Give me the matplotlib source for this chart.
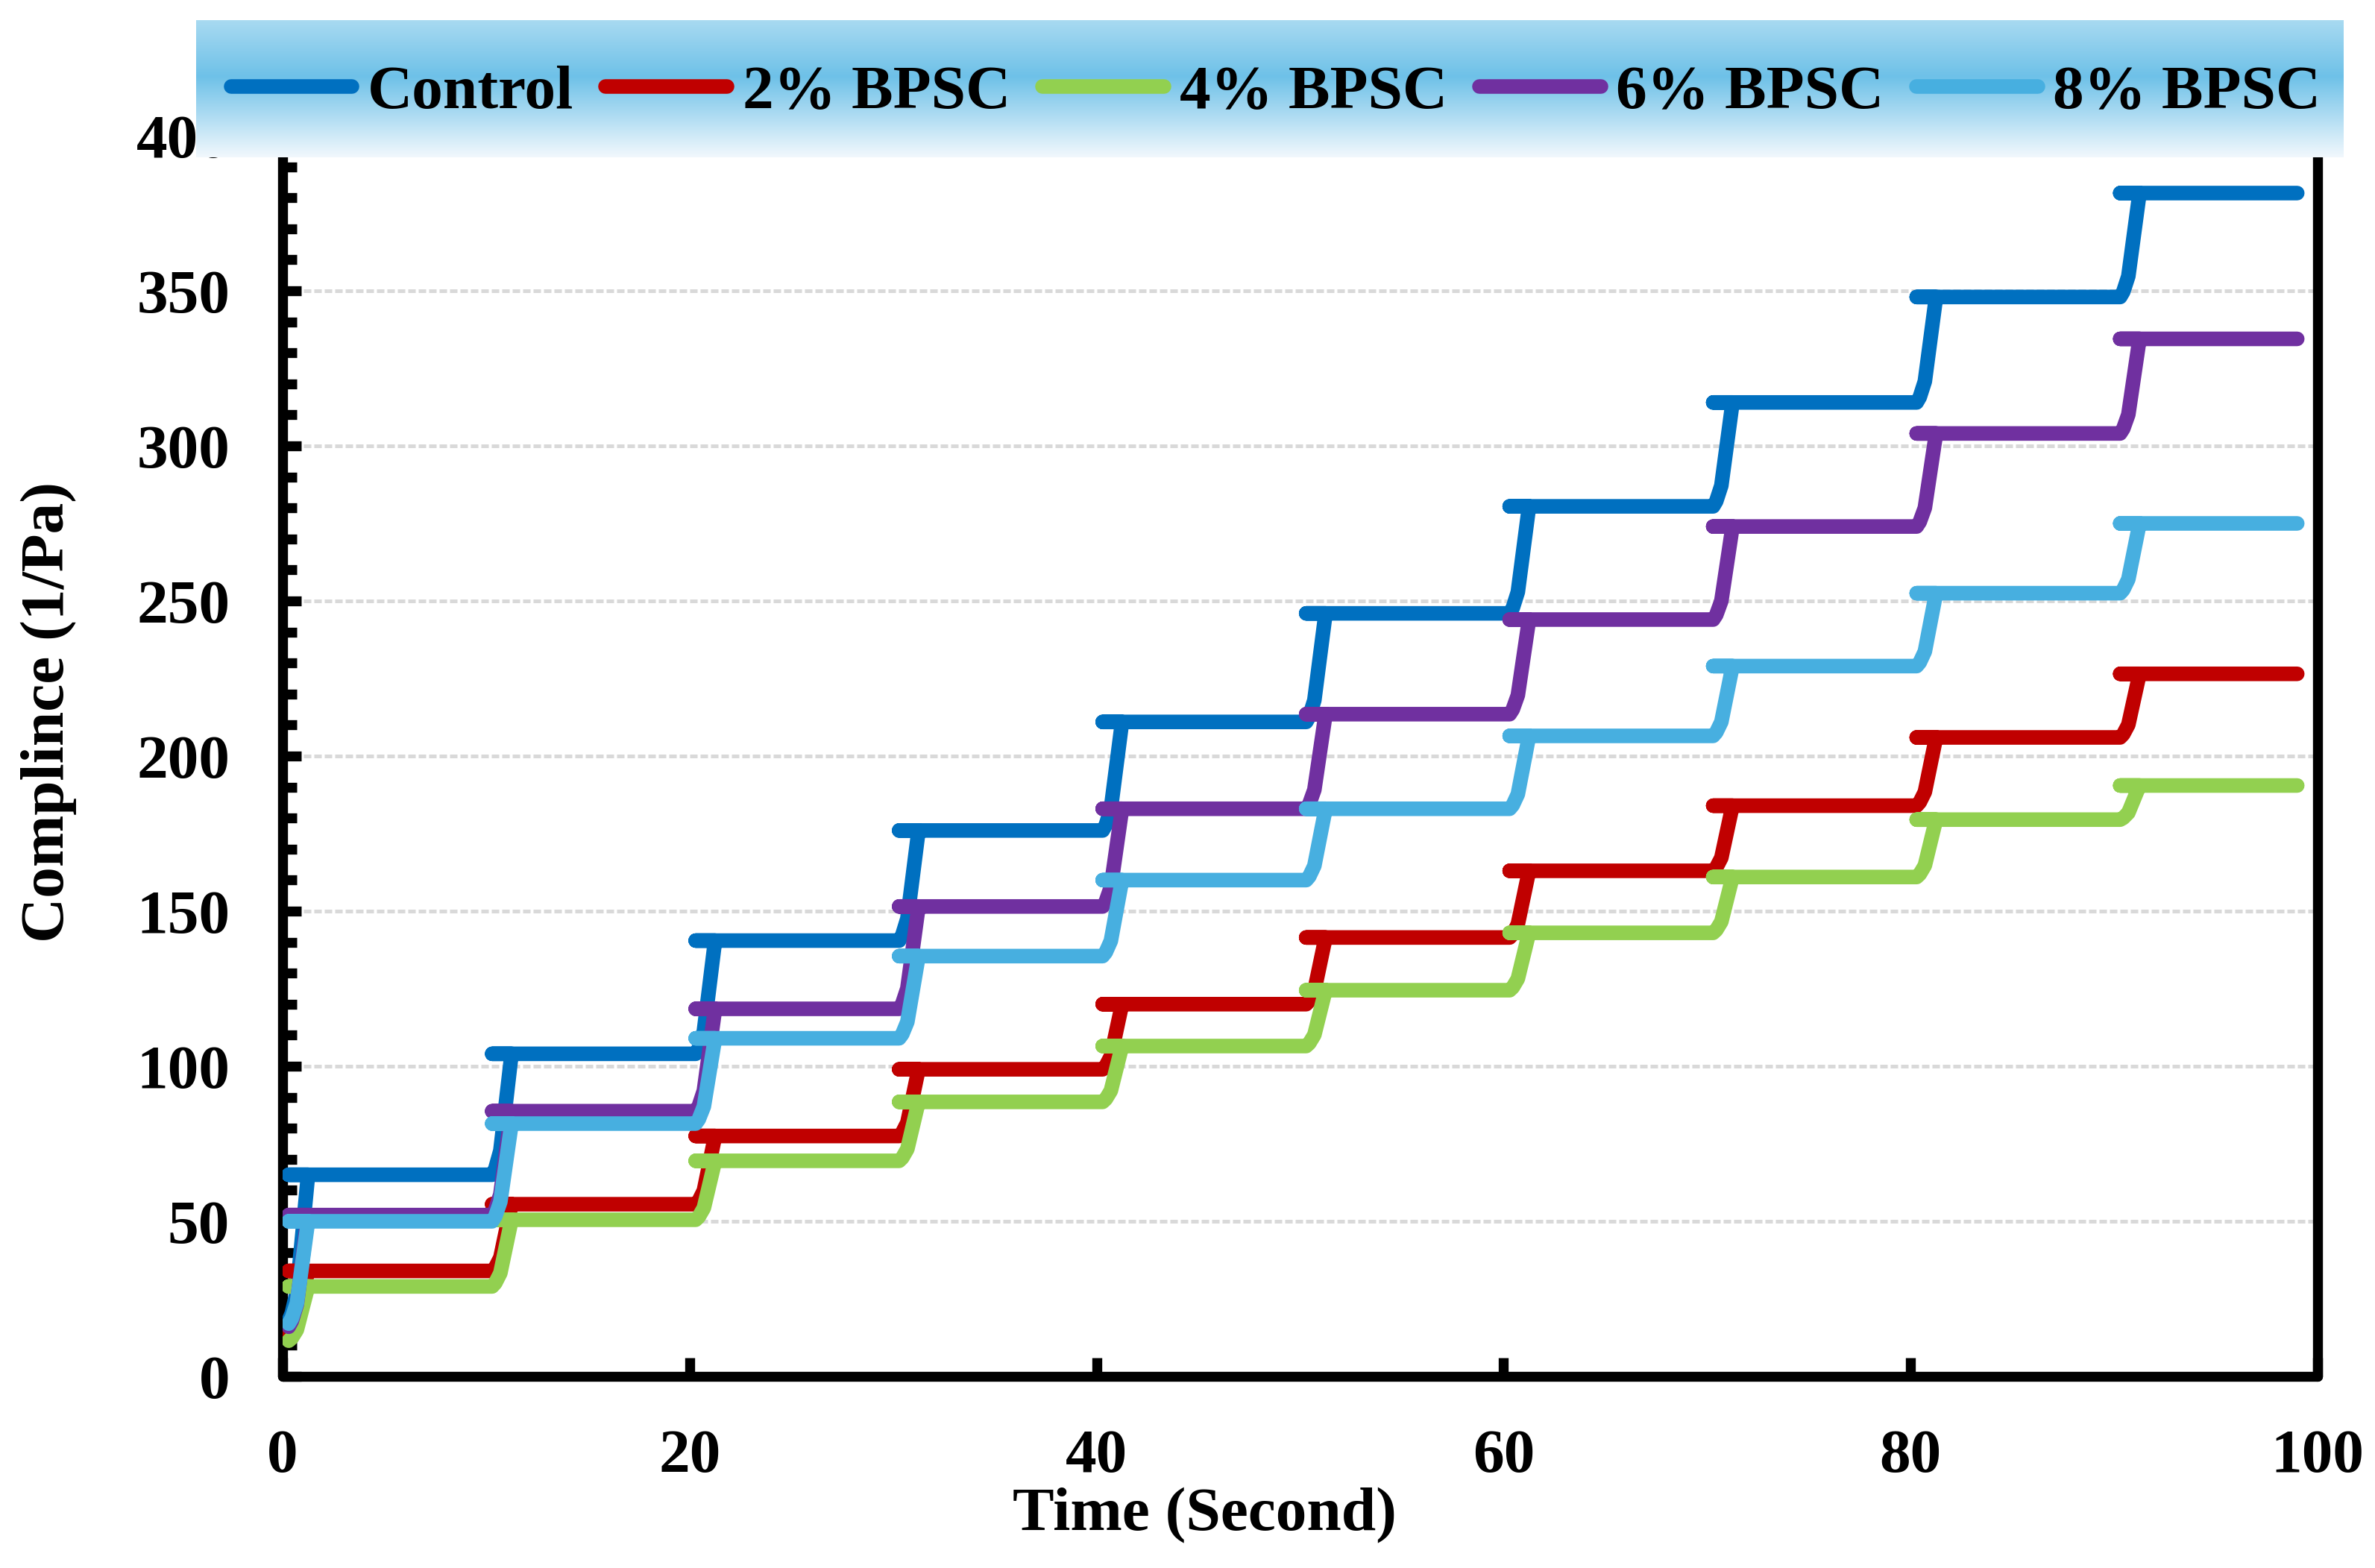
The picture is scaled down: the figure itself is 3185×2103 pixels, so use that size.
import numpy as np
import matplotlib
matplotlib.use('Agg')
from matplotlib import pyplot as plt
from matplotlib.colors import LinearSegmentedColormap
from matplotlib.ticker import MultipleLocator

# plateau levels of compliance (1/Pa), one per 10 s load step
labels = ['Control', '2% BPSC', '4% BPSC', '6% BPSC', '8% BPSC']
colors = ['#0070C0', '#C00000', '#92D050', '#7030A0', '#47AFE0']
start_vals = [18, 14, 11.5, 16, 17]
control = [65, 104, 140.5, 176, 211, 246, 280.5, 314, 348, 381.5]
bpsc2 = [34, 55.5, 77.5, 99, 120, 141.5, 163, 184, 206, 226.5]
bpsc4 = [29, 50.5, 69.5, 88.5, 106.5, 124.5, 143, 161, 179.5, 190.5]
bpsc6 = [52, 85.5, 118.5, 151.5, 183, 213.5, 244, 274, 304, 334.5]
bpsc8 = [50, 81.5, 109, 135.5, 160, 183, 206.5, 229, 252.5, 275]
series = [control, bpsc2, bpsc4, bpsc6, bpsc8]
step_times = [0.3, 10.3, 20.3, 30.3, 40.3, 50.3, 60.3, 70.3, 80.3, 90.3]
end_time = 99

# shape of one rise (time offset, fraction of the jump)
ramp_dt = [0, 0.15, 0.4, 0.95]
ramp_frac = [0, 0.05, 0.2, 1.0]

plt.rcParams['font.family'] = ['Liberation Serif', 'DejaVu Serif']
plt.rcParams['font.weight'] = 'bold'
plt.rcParams['font.size'] = 20

W, H = 3185, 2103
fig = plt.figure(figsize=(W / 300, H / 300), dpi=300)
L, R, B, T = 379, 3108, 1846, 182
ax = fig.add_axes([L / W, 1 - B / H, (R - L) / W, (B - T) / H])


def build_path(y0, levels):
    xs, ys = [], []
    prev = y0
    for i, lev in enumerate(levels):
        s = step_times[i]
        for dt, f in zip(ramp_dt, ramp_frac):
            xs.append(s + dt)
            ys.append(prev + f * (lev - prev))
        # plateau starts at the step time
        xs.append(s)
        ys.append(lev)
        nxt = step_times[i + 1] if i + 1 < len(step_times) else end_time
        xs.append(nxt)
        ys.append(lev)
        prev = lev
    return xs, ys


handles = []
for lab, col, y0, vals in zip(labels, colors, start_vals, series):
    xs, ys = build_path(y0, vals)
    ln, = ax.plot(xs, ys, color=col, lw=4.7, solid_capstyle='round',
                  solid_joinstyle='round', label=lab, zorder=3)
    handles.append(ln)

ax.set_xlim(0, 100)
ax.set_ylim(0, 400)
ax.set_xticks(np.arange(0, 101, 20))
ax.set_yticks(np.arange(0, 401, 50))
ax.yaxis.set_minor_locator(MultipleLocator(10))
ax.grid(axis='y', which='major', color='#D9D9D9', lw=1.2,
        linestyle=(0, (2, 0.8)), zorder=1)
ax.set_axisbelow(True)

ax.tick_params(axis='both', which='major', direction='in', length=6,
               width=3.2, pad=17, labelsize=20)
ax.tick_params(axis='y', which='minor', direction='in', length=4.5, width=3.2)
ax.tick_params(right=False, top=False)
for sp in ax.spines.values():
    sp.set_linewidth(3.2)
    sp.set_capstyle('round')
ax.spines['top'].set_visible(False)

ax.set_xlabel('Time (Second)', fontsize=20, fontweight='bold')
ax.set_ylabel('Complince (1/Pa)', fontsize=20, fontweight='bold')
ax.xaxis.set_label_coords((1615 - L) / (R - L), (B - 1995) / (B - T))
ax.yaxis.set_label_coords((103 - L) / (R - L), (B - 955) / (B - T))

# gradient band behind the legend
bx0, bx1, by0, by1 = 263, 3143, 27, 211
bg = fig.add_axes([bx0 / W, 1 - by1 / H, (bx1 - bx0) / W, (by1 - by0) / H])
cmap = LinearSegmentedColormap.from_list(
    'band', [(0, '#A8DAF1'), (0.41, '#6EC1E8'), (1, '#F2F8FD')])
bg.imshow(np.linspace(0, 1, 256).reshape(-1, 1), aspect='auto', cmap=cmap)
bg.set_axis_off()
bg.set_zorder(2)

leg = fig.legend(handles=handles, loc='center', ncol=5, frameon=False,
                 bbox_to_anchor=(1711 / W, 1 - 125 / H),
                 prop={'family': 'Liberation Serif', 'weight': 'bold', 'size': 20},
                 handlelength=1.95, handletextpad=0.25, columnspacing=0.52,
                 borderaxespad=0, borderpad=0)
leg.set_zorder(5)

fig.savefig('out.png', dpi=300)
